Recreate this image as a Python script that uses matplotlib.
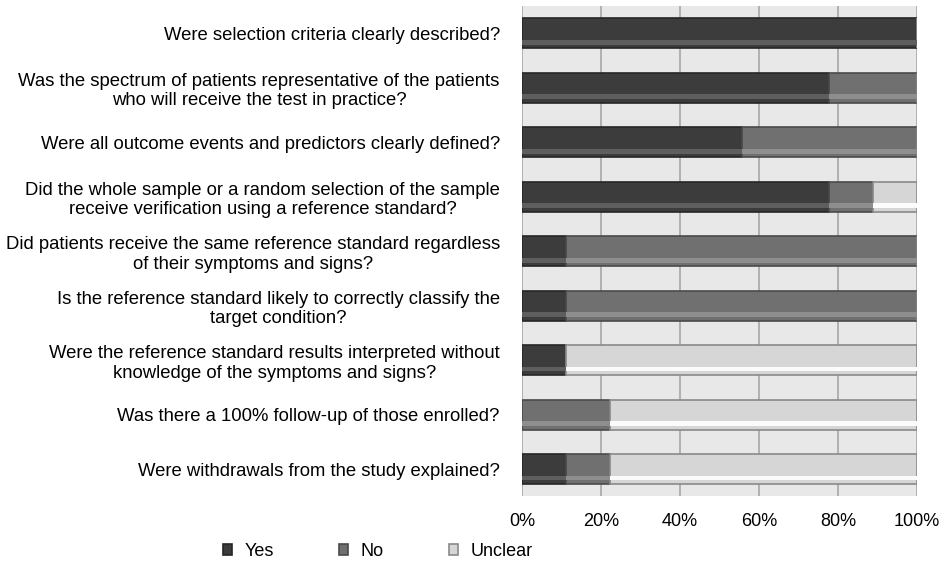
import matplotlib
matplotlib.use('Agg')

import matplotlib.pyplot as plt
import numpy as np

plt.rcParams['font.family'] = ['Liberation Sans', 'DejaVu Sans']

questions = [
    'Were selection criteria clearly described?',
    'Was the spectrum of patients representative of the patients\nwho will receive the test in practice?',
    'Were all outcome events and predictors clearly defined?',
    'Did the whole sample or a random selection of the sample\nreceive verification using a reference standard?',
    'Did patients receive the same reference standard regardless\nof their symptoms and signs?',
    'Is the reference standard likely to correctly classify the\ntarget condition?',
    'Were the reference standard results interpreted without\nknowledge of the symptoms and signs?',
    'Was there a 100% follow-up of those enrolled?',
    'Were withdrawals from the study explained?',
]
yes = [100, 77.8, 55.6, 77.8, 11.1, 11.1, 11.1, 0, 11.1]
no = [0, 22.2, 44.4, 11.1, 88.9, 88.9, 0, 22.2, 11.1]
unclear = [0, 0, 0, 11.1, 0, 0, 88.9, 77.8, 77.8]
series = ['Yes', 'No', 'Unclear']
ticks = [0, 20, 40, 60, 80, 100]

colors = ['#3c3c3c', '#707070', '#d6d6d6']
edges = ['#262626', '#4a4a4a', '#8a8a8a']
shades = ['#5e5e5e', '#8e8e8e', '#fbfbfb']

fig = plt.figure(figsize=(9.39, 5.62), dpi=100)
ax = fig.add_axes([0.556, 0.117, 0.4206, 0.872])
ax.set_facecolor('#e8e8e8')

y = np.arange(len(questions))
h = 0.55
left = np.zeros(len(questions))
for vals, name, c, ec, sc in zip([yes, no, unclear], series, colors, edges, shades):
    vals = np.array(vals)
    ax.barh(y, vals, left=left, height=h, color=c, edgecolor=ec, linewidth=1.2,
            label=name, zorder=3)
    # lighter lower strip for a bevel look
    ax.barh(y + h * 0.3, vals, left=left, height=h * 0.16, color=sc,
            linewidth=0, zorder=4)
    left = left + vals

ax.set_xlim(0, 100)
ax.set_ylim(len(questions) - 0.5, -0.5)
ax.set_xticks(ticks)
ax.set_xticklabels([f'{t}%' for t in ticks], fontsize=13)
ax.set_yticks(y)
ax.set_yticklabels(questions, fontsize=13.3, multialignment='center')
ax.tick_params(length=0)
ax.tick_params(axis='y', pad=16)
ax.tick_params(axis='x', pad=12)
ax.xaxis.grid(True, color='#a6a6a6', linewidth=1.2, zorder=0)
ax.set_axisbelow(True)
for s in ax.spines.values():
    s.set_visible(False)

fig.legend(loc='center', bbox_to_anchor=(0.4026, 0.019), ncol=3, frameon=False,
           fontsize=13, handlelength=0.5, handleheight=0.5,
           handletextpad=0.7, columnspacing=3.6)

fig.savefig('out.png', dpi=100)
